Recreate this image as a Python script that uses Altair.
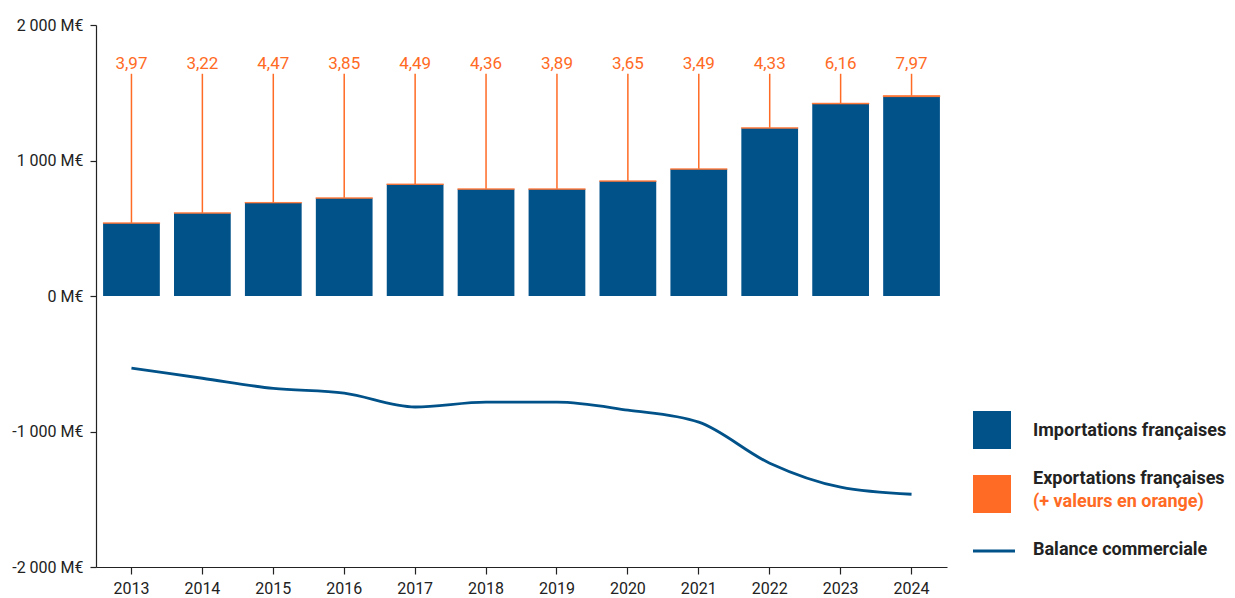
import altair as alt
import pandas as pd

# ---- data ----
years = ["2013", "2014", "2015", "2016", "2017", "2018", "2019", "2020", "2021", "2022", "2023", "2024"]
imports_meur = [536, 611, 686, 721, 823, 787, 787, 846, 935, 1238, 1417, 1471]
exports_meur = [3.97, 3.22, 4.47, 3.85, 4.49, 4.36, 3.89, 3.65, 3.49, 4.33, 6.16, 7.97]
balance_meur = [-532, -607, -682, -717, -819, -783, -783, -842, -931, -1234, -1411, -1463]
y_ticks = [-2000, -1000, 0, 1000, 2000]
legend_labels = ["Importations françaises", "Exportations françaises",
                 "(+ valeurs en orange)", "Balance commerciale"]
rule_top_value = 1640
label_value = 1715

BLUE = "#02528A"
ORANGE = "#FF6A24"
TEXT = "#222222"
FONT = "Roboto"

df = pd.DataFrame({"annee": years, "imp": imports_meur, "exp": exports_meur,
                   "bal": balance_meur,
                   "rtop": [rule_top_value] * len(years),
                   "lpos": [label_value] * len(years)})

W, H = 851, 542

x_enc = alt.X(
    "annee:N",
    sort=years,
    scale=alt.Scale(paddingInner=0.2, paddingOuter=0.1),
    axis=alt.Axis(title=None, labelAngle=0, tickSize=7, labelPadding=6,
                  labelFontSize=16, domainColor=TEXT, tickColor=TEXT, labelColor=TEXT),
)
y_scale = alt.Scale(domain=[-2000, 2000], nice=False, zero=False)

base = alt.Chart(df).transform_calculate(
    top="datum.imp + datum.exp",
    lbl="replace(format(datum.exp, '.2f'), '.', ',')",
)

bars_imp = base.mark_bar(color=BLUE).encode(
    x=x_enc,
    y=alt.Y("imp:Q", scale=y_scale,
            axis=alt.Axis(title=None, values=y_ticks, grid=False, tickSize=6, labelPadding=7,
                          labelFontSize=16, domainColor=TEXT, tickColor=TEXT, labelColor=TEXT,
                          labelExpr="(datum.value < 0 ? '-' : '') + replace(format(abs(datum.value), ',.0f'), ',', ' ') + ' M€'")),
)

bars_exp = base.mark_bar(color=ORANGE, stroke=ORANGE, strokeWidth=0.6).encode(
    x=alt.X("annee:N", sort=years),
    y=alt.Y("imp:Q"),
    y2="top:Q",
)

rules = base.mark_rule(color=ORANGE, strokeWidth=1.5).encode(
    x=alt.X("annee:N", sort=years),
    y=alt.Y("rtop:Q"),
    y2="top:Q",
)

labels = base.mark_text(color=ORANGE, fontSize=17, font=FONT, baseline="middle").encode(
    x=alt.X("annee:N", sort=years),
    y=alt.Y("lpos:Q"),
    text="lbl:N",
)

line = base.mark_line(color=BLUE, strokeWidth=2.8, interpolate="monotone").encode(
    x=alt.X("annee:N", sort=years),
    y=alt.Y("bal:Q"),
)

# ---- manual legend (right side) ----
def one(label):
    return alt.Chart(pd.DataFrame({"t": [label]}))

leg_imp_sq = one(legend_labels[0]).mark_rect(color=BLUE).encode(
    x=alt.value(877), x2=alt.value(915), y=alt.value(386), y2=alt.value(424))
leg_exp_sq = one(legend_labels[1]).mark_rect(color=ORANGE).encode(
    x=alt.value(877), x2=alt.value(915), y=alt.value(450), y2=alt.value(488))
leg_line = one(legend_labels[3]).mark_rule(color=BLUE, strokeWidth=3).encode(
    x=alt.value(877), x2=alt.value(919), y=alt.value(526))

def leg_text(label, ypix, color=TEXT):
    return one(label).mark_text(align="left", baseline="middle", fontSize=18,
                                fontWeight="bold", font=FONT, color=color).encode(
        x=alt.value(937), y=alt.value(ypix), text="t:N")

leg_t1 = leg_text(legend_labels[0], 406)
leg_t2 = leg_text(legend_labels[1], 454)
leg_t3 = leg_text(legend_labels[2], 477, ORANGE)
leg_t4 = leg_text(legend_labels[3], 525)

chart = alt.layer(
    bars_imp, bars_exp, rules, labels, line,
    leg_imp_sq, leg_exp_sq, leg_line, leg_t1, leg_t2, leg_t3, leg_t4,
).properties(
    width=W, height=H,
    autosize=alt.AutoSizeParams(type="none"),
    padding={"left": 88, "top": 17, "right": 280, "bottom": 31},
    background="white",
).configure_view(stroke=None).configure_axis(
    labelFont=FONT, domainWidth=1.2, tickWidth=1.2,
)

chart.save("out.html", embed_options={"renderer": "svg", "actions": False})
